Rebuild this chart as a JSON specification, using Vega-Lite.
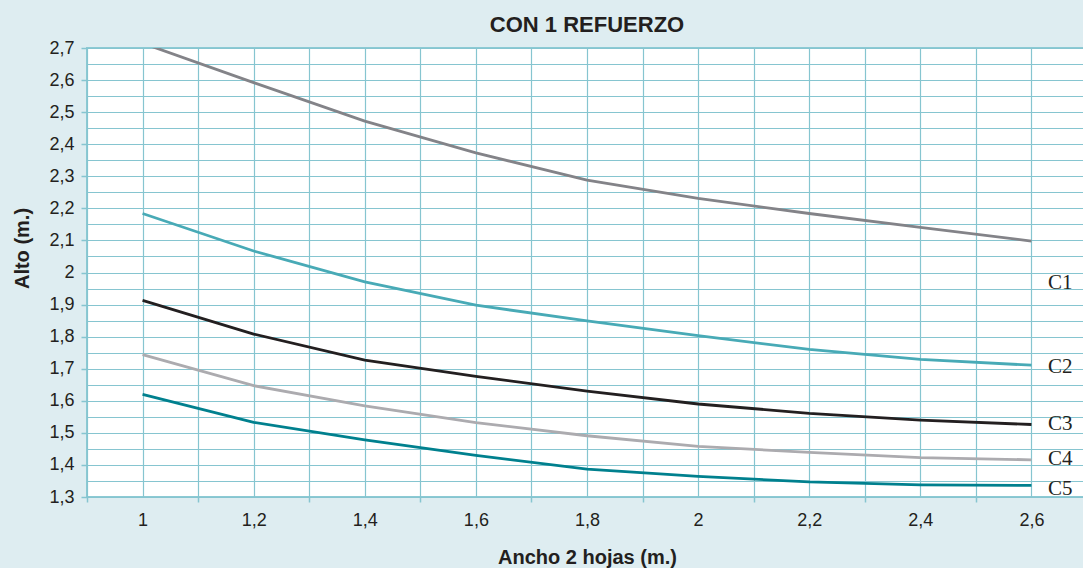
{
  "$schema": "https://vega.github.io/schema/vega-lite/v6.json",
  "width": 1000,
  "height": 449,
  "autosize": {"type": "none"},
  "padding": {"left": 87, "top": 48, "right": 0, "bottom": 71},
  "background": "#deedf1",
  "config": {
    "font": "Liberation Sans",
    "view": {"fill": "#ffffff", "stroke": "#8ccad4", "strokeWidth": 2}
  },
  "title": {
    "text": "CON 1 REFUERZO",
    "font": "Liberation Sans",
    "fontSize": 22,
    "fontWeight": "bold",
    "color": "#231f20",
    "anchor": "middle",
    "baseline": "alphabetic",
    "offset": 10,
    "dy": 25
  },
  "datasets": {
    "curvas": [
      {"serie": "C1", "ancho": 1.0, "alto": 2.715},
      {"serie": "C1", "ancho": 1.2, "alto": 2.592},
      {"serie": "C1", "ancho": 1.4, "alto": 2.472},
      {"serie": "C1", "ancho": 1.6, "alto": 2.373},
      {"serie": "C1", "ancho": 1.8, "alto": 2.288},
      {"serie": "C1", "ancho": 2.0, "alto": 2.231},
      {"serie": "C1", "ancho": 2.2, "alto": 2.184},
      {"serie": "C1", "ancho": 2.4, "alto": 2.141},
      {"serie": "C1", "ancho": 2.6, "alto": 2.098},
      {"serie": "C2", "ancho": 1.0, "alto": 2.184},
      {"serie": "C2", "ancho": 1.2, "alto": 2.067},
      {"serie": "C2", "ancho": 1.4, "alto": 1.971},
      {"serie": "C2", "ancho": 1.6, "alto": 1.898},
      {"serie": "C2", "ancho": 1.8, "alto": 1.849},
      {"serie": "C2", "ancho": 2.0, "alto": 1.803},
      {"serie": "C2", "ancho": 2.2, "alto": 1.76},
      {"serie": "C2", "ancho": 2.4, "alto": 1.729},
      {"serie": "C2", "ancho": 2.6, "alto": 1.711},
      {"serie": "C3", "ancho": 1.0, "alto": 1.913},
      {"serie": "C3", "ancho": 1.2, "alto": 1.808},
      {"serie": "C3", "ancho": 1.4, "alto": 1.727},
      {"serie": "C3", "ancho": 1.6, "alto": 1.676},
      {"serie": "C3", "ancho": 1.8, "alto": 1.63},
      {"serie": "C3", "ancho": 2.0, "alto": 1.59},
      {"serie": "C3", "ancho": 2.2, "alto": 1.561},
      {"serie": "C3", "ancho": 2.4, "alto": 1.54},
      {"serie": "C3", "ancho": 2.6, "alto": 1.526},
      {"serie": "C4", "ancho": 1.0, "alto": 1.744},
      {"serie": "C4", "ancho": 1.2, "alto": 1.647},
      {"serie": "C4", "ancho": 1.4, "alto": 1.584},
      {"serie": "C4", "ancho": 1.6, "alto": 1.532},
      {"serie": "C4", "ancho": 1.8, "alto": 1.491},
      {"serie": "C4", "ancho": 2.0, "alto": 1.458},
      {"serie": "C4", "ancho": 2.2, "alto": 1.439},
      {"serie": "C4", "ancho": 2.4, "alto": 1.423},
      {"serie": "C4", "ancho": 2.6, "alto": 1.416},
      {"serie": "C5", "ancho": 1.0, "alto": 1.62},
      {"serie": "C5", "ancho": 1.2, "alto": 1.533},
      {"serie": "C5", "ancho": 1.4, "alto": 1.478},
      {"serie": "C5", "ancho": 1.6, "alto": 1.43},
      {"serie": "C5", "ancho": 1.8, "alto": 1.387},
      {"serie": "C5", "ancho": 2.0, "alto": 1.364},
      {"serie": "C5", "ancho": 2.2, "alto": 1.347},
      {"serie": "C5", "ancho": 2.4, "alto": 1.338},
      {"serie": "C5", "ancho": 2.6, "alto": 1.336}
    ],
    "etiquetas": [
      {"serie": "C1", "ancho": 2.63, "alto": 1.967},
      {"serie": "C2", "ancho": 2.63, "alto": 1.704},
      {"serie": "C3", "ancho": 2.63, "alto": 1.528},
      {"serie": "C4", "ancho": 2.63, "alto": 1.419},
      {"serie": "C5", "ancho": 2.63, "alto": 1.325}
    ]
  },
  "encoding": {
    "x": {
      "field": "ancho",
      "type": "quantitative",
      "scale": {"domain": [0.9, 2.7], "nice": false, "zero": false},
      "axis": {
        "title": "Ancho 2 hojas (m.)",
        "titleFont": "Liberation Sans",
        "titleFontSize": 20,
        "titleFontWeight": "bold",
        "titleColor": "#231f20",
        "titleX": 500,
        "titleY": 66,
        "titleBaseline": "alphabetic",
        "values": [0.9, 1.0, 1.1, 1.2, 1.3, 1.4, 1.5, 1.6, 1.7, 1.8, 1.9, 2.0, 2.1, 2.2, 2.3, 2.4, 2.5, 2.6, 2.7],
        "labelExpr": "round(datum.value * 10) % 2 == 0 ? replace(format(datum.value, '.1~f'), '.', ',') : ''",
        "labelFont": "Liberation Sans",
        "labelFontSize": 18,
        "labelColor": "#231f20",
        "labelOverlap": false,
        "labelFlush": false,
        "labelPadding": 9,
        "domain": false,
        "grid": true,
        "gridColor": "#86c5d0",
        "gridWidth": 1.2,
        "tickColor": "#86c5d0",
        "tickWidth": 1.5,
        "tickSize": 5,
        "tickOpacity": {"condition": {"test": "round(datum.value * 10) % 2 == 1", "value": 1}, "value": 0}
      }
    },
    "y": {
      "field": "alto",
      "type": "quantitative",
      "scale": {"domain": [1.3, 2.7], "nice": false, "zero": false},
      "axis": {
        "title": "Alto (m.)",
        "titleFont": "Liberation Sans",
        "titleFontSize": 20,
        "titleFontWeight": "bold",
        "titleColor": "#231f20",
        "titleAngle": -90,
        "titleX": -65,
        "titleY": 200,
        "titleAlign": "center",
        "titleBaseline": "middle",
        "values": [1.3, 1.35, 1.4, 1.45, 1.5, 1.55, 1.6, 1.65, 1.7, 1.75, 1.8, 1.85, 1.9, 1.95, 2.0, 2.05, 2.1, 2.15, 2.2, 2.25, 2.3, 2.35, 2.4, 2.45, 2.5, 2.55, 2.6, 2.65, 2.7],
        "labelExpr": "abs(datum.value * 10 - round(datum.value * 10)) < 0.001 ? replace(format(datum.value, '.1~f'), '.', ',') : ''",
        "labelFont": "Liberation Sans",
        "labelFontSize": 18,
        "labelColor": "#231f20",
        "labelOverlap": false,
        "labelFlush": false,
        "labelPadding": 7,
        "domain": false,
        "grid": true,
        "gridColor": "#86c5d0",
        "gridWidth": 1.2,
        "tickColor": "#86c5d0",
        "tickWidth": 1.5,
        "tickSize": 6,
        "tickOpacity": {"condition": {"test": "abs(datum.value * 10 - round(datum.value * 10)) < 0.001", "value": 1}, "value": 0}
      }
    }
  },
  "layer": [
    {
      "data": {"name": "curvas"},
      "mark": {"type": "line", "clip": true, "strokeWidth": 2.8},
      "encoding": {
        "color": {
          "field": "serie",
          "type": "nominal",
          "scale": {
            "domain": ["C1", "C2", "C3", "C4", "C5"],
            "range": ["#838388", "#48aab6", "#231f20", "#acabaf", "#00808e"]
          },
          "legend": null
        }
      }
    },
    {
      "data": {"name": "etiquetas"},
      "mark": {
        "type": "text",
        "align": "left",
        "baseline": "middle",
        "font": "Liberation Serif",
        "fontSize": 21,
        "color": "#231f20"
      },
      "encoding": {
        "text": {"field": "serie", "type": "nominal"}
      }
    }
  ]
}
